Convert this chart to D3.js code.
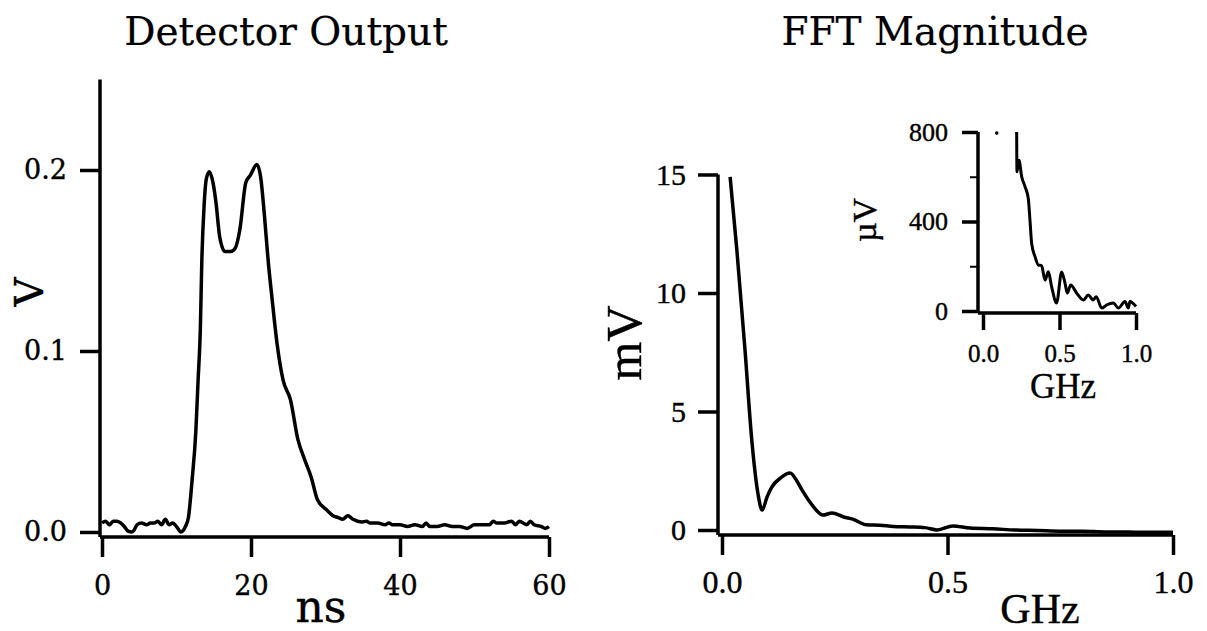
<!DOCTYPE html>
<html>
<head>
<meta charset="utf-8">
<script src="https://cdn.jsdelivr.net/npm/d3@7"></script>
<style>
  body { margin: 0; background: #fff; }
  svg { display: block; }
  .tick line { stroke: #000; stroke-width: 3.5; }
  .tick text { fill: #000; }
  text { stroke: #000; stroke-width: 0.4px; }
</style>
</head>
<body>
<svg width="1207" height="631"></svg>
<script>
// detector output, time in ns vs volts
const pulseT = [0,0.5,1,1.5,2,2.5,3,3.5,4,4.3,4.7,5.3,6,6.5,7,7.5,8,8.5,9,9.5,10,10.6,11.2,11.6,12.1,12.6,12.9,13.2,13.4,13.7,14.0,14.4,14.9,15.3,15.8,16.5,17.3,17.9,18.5,19.3,19.9,20.8,21.3,21.8,22.3,22.8,23.5,24.3,25.3,26.3,27.2,28.1,28.9,30.2,31.0,31.7,32.3,33,33.7,34.8,35.5,36,37,38,38.5,39,40,41,42,43,43.5,44,45,46,47,48,49,50,51,52,52.5,53,54,55,55.5,56,57,57.5,58,59,59.5,60];
const pulseV = [0.005,0.006,0.004,0.006,0.006,0.005,0.003,0.0005,0,0.001,0.004,0.005,0.004,0.005,0.005,0.006,0.004,0.007,0.004,0.005,0.003,0,0.003,0.008,0.029,0.056,0.084,0.112,0.15,0.18,0.195,0.199,0.193,0.182,0.163,0.155,0.155,0.157,0.167,0.193,0.197,0.203,0.196,0.175,0.15,0.13,0.104,0.084,0.073,0.051,0.04,0.03,0.018,0.012,0.009,0.008,0.007,0.009,0.007,0.0055,0.006,0.005,0.005,0.004,0.005,0.004,0.004,0.003,0.004,0.003,0.005,0.003,0.003,0.004,0.003,0.003,0.002,0.004,0.004,0.004,0.006,0.005,0.005,0.006,0.004,0.006,0.004,0.006,0.004,0.003,0.002,0.003];
const pulseTicksX = [0, 20, 40, 60];
const pulseTicksY = [0, 0.1, 0.2];

// FFT magnitude, GHz vs mV
const fftF = [0.018,0.033,0.051,0.066,0.08,0.089,0.1,0.11,0.13,0.151,0.165,0.177,0.2,0.224,0.244,0.27,0.29,0.32,0.35,0.38,0.417,0.45,0.477,0.512,0.55,0.6,0.65,0.7,0.75,0.8,0.85,0.9,0.95,1.0];
const fftMV = [14.9,11.8,7.6,3.8,1.5,0.84,1.4,1.8,2.2,2.4,2.1,1.7,1.05,0.63,0.72,0.55,0.46,0.22,0.2,0.15,0.13,0.1,0,0.17,0.08,0.05,0,-0.02,-0.05,-0.05,-0.08,-0.08,-0.1,-0.1];
const fftTicksX = [0, 0.5, 1];
const fftTicksY = [0, 5, 10, 15];

// inset, GHz vs µV
const insetF = [0.22,0.222,0.235,0.253,0.275,0.296,0.307,0.318,0.34,0.362,0.383,0.405,0.427,0.449,0.481,0.514,0.536,0.551,0.573,0.612,0.656,0.688,0.721,0.74,0.776,0.81,0.852,0.885,0.928,0.95,0.96,1.0];
const insetUV = [800,622,674,600,555,503,406,302,243,205,203,138,175,107,36,174,125,80,116,80,49,71,49,64,13,28,36,13,43,13,43,20];
const insetStray = [[0.09, 795]];
const insetTicksX = [0, 0.5, 1];
const insetTicksY = [0, 400, 800];
const insetMinorY = [200, 600];

const svg = d3.select("svg");
const serifA = "'DejaVu Serif', serif";
const serifB = "'Liberation Serif', 'Times New Roman', serif";

function axisLines(g, x0, y0, x1, y1) {
  g.append("line").attr("x1", x0).attr("y1", y0).attr("x2", x0).attr("y2", y1)
    .attr("stroke", "#000").attr("stroke-width", 3.5);
  g.append("line").attr("x1", x0).attr("y1", y1).attr("x2", x1).attr("y2", y1)
    .attr("stroke", "#000").attr("stroke-width", 3.5);
}

function curve(g, pts, x, y, w) {
  g.append("path")
    .datum(pts)
    .attr("fill", "none")
    .attr("stroke", "#000")
    .attr("stroke-width", w)
    .attr("stroke-linejoin", "round")
    .attr("d", d3.line().x(d => x(d[0])).y(d => y(d[1])).curve(d3.curveMonotoneX));
}

// ---- Left: Detector Output ----
const xL = d3.scaleLinear().domain([0, 60]).range([102, 549]);
const yL = d3.scaleLinear().domain([0, 0.25]).range([532, 79.5]);
const gL = svg.append("g");

axisLines(gL, 100, yL.range()[1], xL.range()[1], 537);

gL.append("g").attr("transform", "translate(100,0)")
  .call(d3.axisLeft(yL).tickValues(pulseTicksY).tickFormat(d3.format(".1f")).tickSize(20).tickPadding(13))
  .call(g => g.select(".domain").remove())
  .selectAll("text").style("font-family", serifA).style("font-size", "27px");

gL.append("g").attr("transform", "translate(0,537)")
  .call(d3.axisBottom(xL).tickValues(pulseTicksX).tickSize(20).tickPadding(19))
  .call(g => g.select(".domain").remove())
  .selectAll("text").style("font-family", serifA).style("font-size", "27px");

curve(gL, pulseT.map((t, i) => [t, pulseV[i]]), xL, yL, 3.5);

gL.append("text").attr("x", 286).attr("y", 45).attr("text-anchor", "middle")
  .style("font-family", serifA).style("font-size", "39px").style("stroke-width", "0.2px").text("Detector Output");
gL.append("text").attr("x", 321).attr("y", 622).attr("text-anchor", "middle")
  .style("font-family", serifA).style("font-size", "44px").text("ns");
gL.append("text").attr("transform", "translate(43,292) rotate(-90)").attr("text-anchor", "middle")
  .style("font-family", serifA).style("font-size", "40px").text("V");

// ---- Right: FFT Magnitude ----
const xR = d3.scaleLinear().domain([0, 1]).range([722, 1173]);
const yR = d3.scaleLinear().domain([0, 15]).range([530, 174.5]);
const gR = svg.append("g");

axisLines(gR, 718, yR.range()[1], xR.range()[1], 535);

gR.append("g").attr("transform", "translate(718,0)")
  .call(d3.axisLeft(yR).tickValues(fftTicksY).tickSize(20).tickPadding(12))
  .call(g => g.select(".domain").remove())
  .selectAll("text").style("font-family", serifB).style("font-size", "30px");

gR.append("g").attr("transform", "translate(0,535)")
  .call(d3.axisBottom(xR).tickValues(fftTicksX).tickFormat(d3.format(".1f")).tickSize(20).tickPadding(15))
  .call(g => g.select(".domain").remove())
  .selectAll("text").style("font-family", serifB).style("font-size", "32px");

curve(gR, fftF.map((f, i) => [f, fftMV[i]]), xR, yR, 3.5);

gR.append("text").attr("x", 935).attr("y", 45).attr("text-anchor", "middle")
  .style("font-family", serifA).style("font-size", "39px").style("stroke-width", "0.2px").text("FFT Magnitude");
gR.append("text").attr("x", 1040).attr("y", 623).attr("text-anchor", "middle")
  .style("font-family", serifB).style("font-size", "42px").text("GHz");
gR.append("text").attr("transform", "translate(641,343) rotate(-90)").attr("text-anchor", "middle")
  .style("font-family", serifB).style("font-size", "50px").text("mV");

// ---- Inset ----
const xI = d3.scaleLinear().domain([0, 1]).range([983, 1136]);
const yI = d3.scaleLinear().domain([0, 800]).range([311, 132]);
const gI = svg.append("g");

axisLines(gI, 978, yI.range()[1], xI.range()[1], 313);

gI.append("g").attr("transform", "translate(978,0)")
  .call(d3.axisLeft(yI).tickValues(insetTicksY).tickSize(16).tickPadding(14))
  .call(g => g.select(".domain").remove())
  .selectAll("text").style("font-family", serifB).style("font-size", "26px");

gI.append("g").attr("transform", "translate(978,0)")
  .call(d3.axisLeft(yI).tickValues(insetMinorY).tickSize(8).tickFormat(""))
  .call(g => g.select(".domain").remove())
  .selectAll("line").style("stroke-width", 2);

gI.append("g").attr("transform", "translate(0,313)")
  .call(d3.axisBottom(xI).tickValues(insetTicksX).tickFormat(d3.format(".1f")).tickSize(17).tickPadding(14))
  .call(g => g.select(".domain").remove())
  .selectAll("text").style("font-family", serifB).style("font-size", "25px");

curve(gI, insetF.map((f, i) => [f, insetUV[i]]), xI, yI, 3);

gI.selectAll("circle.stray").data(insetStray).enter().append("circle")
  .attr("class", "stray")
  .attr("cx", d => xI(d[0])).attr("cy", d => yI(d[1])).attr("r", 1.8).attr("fill", "#000");

gI.append("text").attr("x", 1063).attr("y", 398).attr("text-anchor", "middle")
  .style("font-family", serifB).style("font-size", "35px").text("GHz");
gI.append("text").attr("transform", "translate(876,220) rotate(-90)").attr("text-anchor", "middle")
  .style("font-family", serifB).style("font-size", "34px").text("µV");
</script>
</body>
</html>
